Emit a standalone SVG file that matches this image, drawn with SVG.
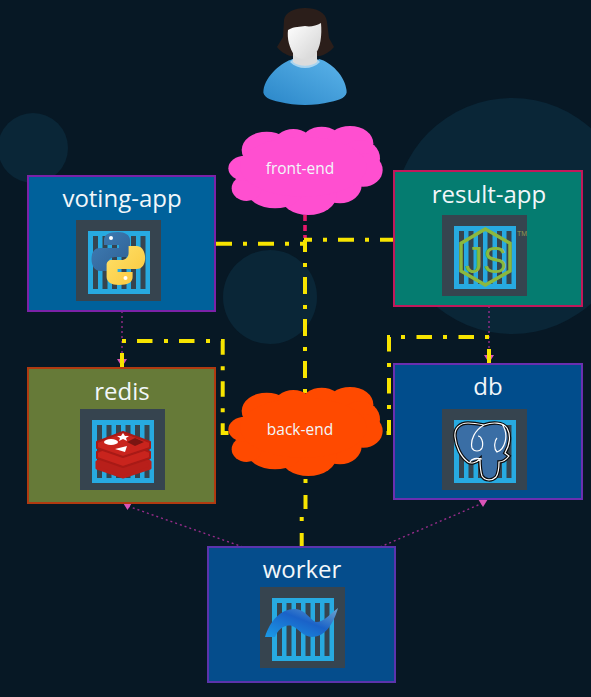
<svg xmlns="http://www.w3.org/2000/svg" width="591" height="697" viewBox="0 0 591 697">
<style>
.t{font-family:"Open Sans","Noto Sans",sans-serif;fill:#f2f7fa;text-anchor:middle}
.nl{font-size:24px}
.cl{font-size:15.500px}
.box{stroke-width:2}
.y{fill:none;stroke:#f7e400;stroke-width:4}
.p{fill:none;stroke:#b0309c;stroke-width:1.4;stroke-dasharray:2 3;opacity:.85}
.dark{fill:#36444f}.blue{fill:#27aae1}
</style>
<defs>
<marker id="tip" markerUnits="userSpaceOnUse" markerWidth="11" markerHeight="9" viewBox="0 0 11 9" refX="5.500" refY="4.500" orient="0"><path d="M0.500 0.500H10.500L5.500 8.500Z" fill="#ff5fd2"/></marker>
<g id="ctr">
<rect width="85" height="81" class="dark"/>
<rect x="12" y="11" width="62" height="63" class="blue"/>
<path d="M17 16h5v53h-5zM26.500 16h5v53h-5zM36 16h5v53h-5zM45.500 16h5v53h-5zM55 16h5v53h-5zM64.500 16h5v53h-5z" class="dark"/>
</g>
<g id="cloud">
<ellipse cx="200" cy="450" rx="75" ry="55"/><ellipse cx="280" cy="435" rx="60" ry="48"/><ellipse cx="365" cy="425" rx="60" ry="45"/><ellipse cx="450" cy="430" rx="70" ry="52"/><ellipse cx="480" cy="475" rx="60" ry="55"/><ellipse cx="490" cy="510" rx="58" ry="50"/><ellipse cx="420" cy="555" rx="65" ry="55"/><ellipse cx="325" cy="585" rx="85" ry="60"/><ellipse cx="225" cy="570" rx="85" ry="55"/><ellipse cx="140" cy="565" rx="45" ry="38"/><ellipse cx="135" cy="505" rx="50" ry="38"/><ellipse cx="310" cy="500" rx="190" ry="90"/>
</g>
<linearGradient id="bd" x1="0" y1="1" x2="1" y2="0"><stop offset="0" stop-color="#2a86c8"/><stop offset="1" stop-color="#5cb4ea"/></linearGradient>
<linearGradient id="fc" x1="0" y1="0" x2="1" y2="1"><stop offset="0" stop-color="#ffffff"/><stop offset="1" stop-color="#d2d2d2"/></linearGradient>
<linearGradient id="net" x1="0" y1="1" x2="1" y2="0"><stop offset="0" stop-color="#1a9ae6"/><stop offset=".55" stop-color="#1a62c8"/><stop offset="1" stop-color="#6fa6cf"/></linearGradient>
<linearGradient id="py1" x1="0" y1="0" x2="1" y2="1"><stop offset="0" stop-color="#3f7fb8"/><stop offset="1" stop-color="#2f5f92"/></linearGradient>
<linearGradient id="py2" x1="0" y1="0" x2="1" y2="1"><stop offset="0" stop-color="#ffe26a"/><stop offset="1" stop-color="#f9c63c"/></linearGradient>
</defs>
<rect width="591" height="697" fill="#071825"/>
<g id="backdrop" fill="#0a2637">
<circle cx="33" cy="148" r="35"/>
<circle cx="270" cy="297" r="47"/>
<circle cx="512" cy="216" r="118"/>
</g>
<g id="user">
<path d="M284 20C285 12 295 8 305 8C316 8 326 12 327 22L329 38L334 47C330 52 324 55 320 56L290 56C285 54 281 52 277 47L283 37Z" fill="#2b1e1a"/>
<path d="M263.500 90C266 75 282 62 293 59C300 67 312 67 319 59C331 62 345 76 346.500 90C348 97 340 100 330 102C315 106 295 106 280 102C270 100 262 97 263.500 90Z" fill="url(#bd)"/>
<path d="M290 62C298 70 312 70 320 62L316 58H294Z" fill="#a9d4ef"/>
<path d="M293 52H317V62C311 67 299 67 293 62Z" fill="#dcdcdc"/>
<path d="M288 30C295 26 300 27 305 26C310 27 316 26 321 23C322 35 321 48 314 56C309 60 300 60 295 56C289 48 287 38 288 30Z" fill="url(#fc)"/>
</g>
<g id="connectors">
<path d="M305 215V238" fill="none" stroke="#e8186c" stroke-width="3.600" stroke-dasharray="6 4"/>
<path class="p" d="M122 311V363" marker-end="url(#tip)"/>
<path class="p" d="M489 306V359" marker-end="url(#tip)"/>
<path class="p" d="M243 547L127.500 506" marker-end="url(#tip)"/>
<path class="p" d="M380 547L483 503" marker-end="url(#tip)"/>
<path class="y" d="M216 243.700H307" stroke-dasharray="16 11 4 11"/>
<path class="y" d="M394 239.700H304" stroke-dasharray="16 11 4 11" stroke-dashoffset="2"/>
<path class="y" d="M305 240V400" stroke-dasharray="17 11 4 10" stroke-dashoffset="5"/>
<path class="y" d="M122 341H222.700V433H235" stroke-dasharray="4 11 15.500 11.500"/>
<path class="y" d="M122 353V368"/>
<path class="y" d="M489 337H389V433H380" stroke-dasharray="4 11 15.500 11.500"/>
<path class="y" d="M489 349V364"/>
<path class="y" d="M305.500 479V509" stroke-dasharray="4 12 14"/>
<path class="y" d="M301.700 517V547" stroke-dasharray="4 12 14"/>
</g>
<g id="front-end">
<use href="#cloud" transform="translate(200 0) scale(.33333)" fill="#ff4fd0"/>
<text class="t cl" x="300" y="174">front-end</text>
</g>
<g id="back-end">
<use href="#cloud" transform="translate(200 261) scale(.33333)" fill="#ff4a00"/>
<text class="t cl" x="300" y="435">back-end</text>
</g>
<g id="voting-app">
<rect class="box" x="28" y="176" width="187" height="135" fill="#00619b" stroke="#7b22a8"/>
<text class="t nl" x="122" y="207">voting-app</text>
<use href="#ctr" x="76" y="220"/>
<path d="M118 232C108 232 104 235 104 240V245H119V248H100C94 248 91.500 253 91.500 259C91.500 266 95 271 100 271H108V264C108 260 111 257 115 257H125C128 257 130 255 130 252V240C130 235 125 232 118 232Z" fill="url(#py1)"/>
<path d="M118.600 285C128.600 285 132.600 282 132.600 277V272H117.600V269H136.600C142.600 269 145.100 264 145.100 258C145.100 251 141.600 246 136.600 246H128.600V253C128.600 257 125.600 260 121.600 260H111.600C108.600 260 106.600 262 106.600 265V277C106.600 282 111.600 285 118.600 285Z" fill="url(#py2)"/>
<circle cx="111" cy="238" r="2" fill="#fff"/><circle cx="125.500" cy="278" r="2" fill="#fff"/>
</g>
<g id="result-app">
<rect class="box" x="394" y="171" width="188" height="135" fill="#057c70" stroke="#c2185b"/>
<text class="t nl" x="489" y="203">result-app</text>
<use href="#ctr" x="442" y="215"/>
<path d="M485.300 229L510 243.300V271L485.300 285L461 271V243.300Z" fill="none" stroke="#8bb83e" stroke-width="3.500"/>
<text x="486" y="273" text-anchor="middle" font-family="Liberation Sans,sans-serif" font-size="36" fill="#8bb83e">JS</text>
<text x="522" y="236" text-anchor="middle" font-family="Liberation Sans,sans-serif" font-size="7" fill="#8f9a50">TM</text>
</g>
<g id="redis">
<rect class="box" x="28" y="368" width="187" height="135" fill="#667a38" stroke="#b03a10"/>
<text class="t nl" x="122" y="400">redis</text>
<use href="#ctr" x="80" y="409"/>
<g stroke-linejoin="round">
<path d="M97 462L123 451L150 462V468L123 477L97 468Z" fill="#b81f1a" stroke="#b81f1a" stroke-width="3"/>
<path d="M97 452L123 441L150 452V458L123 467L97 458Z" fill="#c9241d" stroke="#a81a16" stroke-width="2"/>
<path d="M97 442L123 432L150 442V448L123 457L97 448Z" fill="#c9241d" stroke="#a81a16" stroke-width="2"/>
</g>
<ellipse cx="111" cy="442" rx="7" ry="3" fill="#fff"/>
<path d="M123 433L125 436L129 436L126 438L127 441L123 439L119 441L120 438L117 436L121 436Z" fill="#fff"/>
<path d="M115 449L127 446L125 452Z" fill="#fff"/>
<path d="M135 438L144 442L135 446L127 442Z" fill="#7a1512"/>
</g>
<g id="db">
<rect class="box" x="394" y="364" width="188" height="135" fill="#014d8c" stroke="#6a2fb0"/>
<text class="t nl" x="488" y="395">db</text>
<use href="#ctr" x="442" y="409"/>
<path d="M455 437C454 428 460 423 468 423C474 423 479 424 484 425C492 422 503 422 507 428C511 435 510 445 505 453L509 456C506 460 502 462 499 462C499 468 498 474 496 477C492 481 485 481 482 476C480 470 480 464 480 459C476 463 471 464 468 462C461 457 456 447 455 437Z" fill="#3a6ea5" stroke="#0a0a0a" stroke-width="3.500"/>
<path d="M455 437C454 428 460 423 468 423C474 423 479 424 484 425C492 422 503 422 507 428C511 435 510 445 505 453L509 456C506 460 502 462 499 462C499 468 498 474 496 477C492 481 485 481 482 476C480 470 480 464 480 459C476 463 471 464 468 462C461 457 456 447 455 437ZM484 425C475 430 470 440 472 448C474 452 480 452 482 448C484 442 481 436 478 436M502 424C510 436 504 450 497 452C493 448 495 440 497 438M482 459C476 458 472 458 470 462" fill="none" stroke="#fff" stroke-width="1.200"/>
</g>
<g id="worker">
<rect class="box" x="208" y="547" width="187" height="135" fill="#054d8c" stroke="#5b34ad"/>
<text class="t nl" x="302" y="578">worker</text>
<use href="#ctr" x="260" y="587"/>
<path d="M265 637C270 620 282 608 296 609C306 610 310 620 316 622C324 622 330 614 338 608C334 622 326 637 312 637C303 637 298 628 292 626C284 624 278 630 275 637Z" fill="url(#net)"/>
</g>
</svg>
